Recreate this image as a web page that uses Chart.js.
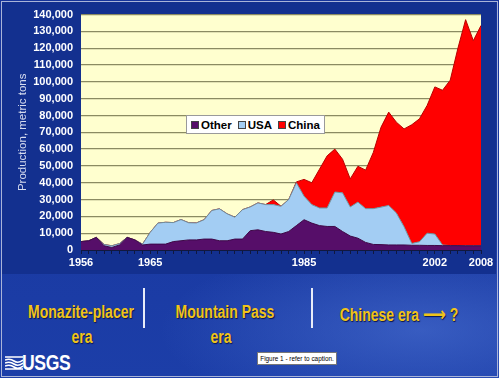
<!DOCTYPE html>
<html><head><meta charset="utf-8">
<script src="https://cdn.jsdelivr.net/npm/chart.js@4.4.0/dist/chart.umd.min.js"></script>
<style>
html,body{margin:0;padding:0;}
body{width:499px;height:378px;overflow:hidden;position:relative;background:#1b3ca3;font-family:"Liberation Sans",Arial,sans-serif;}
#bg{position:absolute;left:0;top:0;width:499px;height:378px;
 background:radial-gradient(ellipse 260px 90px at 420px 330px, rgba(90,130,225,0.45), rgba(0,0,0,0) 100%), linear-gradient(180deg,#17349a 0%,#1c3ea8 100%);}
#navy{position:absolute;left:2px;top:2px;width:494px;height:272px;background:#13308f;}
#frame{position:absolute;left:1px;top:1px;width:495px;height:374px;border:1px solid #aab4d8;}
#chartWrap{position:absolute;left:0;top:0;width:499px;height:275px;}
#legend{position:absolute;left:186px;top:115px;height:17px;padding:0 4px;background:#fff;border:1px solid #9a9a9a;
 display:flex;align-items:center;gap:6px;font:bold 11.5px "Liberation Sans",Arial,sans-serif;color:#000;white-space:nowrap;}
#legend .it{display:flex;align-items:center;gap:2px;}
#legend .sw{width:6px;height:6px;border:1px solid #444;display:inline-block;}
.era{position:absolute;color:#f0c419;font-weight:bold;font-size:17.5px;text-shadow:1px 1px 1px #0a1650;white-space:nowrap;transform-origin:center;}
.sep{position:absolute;width:2px;background:#e8ecf8;top:288px;height:40px;}
#cap{position:absolute;left:257px;top:352px;width:78px;height:11px;background:#fff;border:1px solid #777;font:6.4px "Liberation Sans",Arial,sans-serif;color:#000;line-height:11px;text-align:center;white-space:nowrap;overflow:hidden;}
#usgs{position:absolute;left:22px;top:350px;color:#fff;font:bold 22px "Liberation Sans",Arial,sans-serif;transform:scaleX(0.8);transform-origin:left center;letter-spacing:-0.5px;}
#mark{position:absolute;left:5px;top:355px;}
</style></head>
<body>
<div id="bg"></div>
<div id="navy"></div>
<div id="frame"></div>
<div id="chartWrap"><canvas id="c" width="499" height="275"></canvas></div>
<div id="legend"></div>

<div class="era" style="left:81px;top:302px;transform:translateX(-50%) scaleX(0.8);">Monazite-placer</div>
<div class="era" style="left:82px;top:327px;transform:translateX(-50%) scaleX(0.8);">era</div>
<div class="sep" style="left:143px;"></div>
<div class="era" style="left:225px;top:302px;transform:translateX(-50%) scaleX(0.8);">Mountain Pass</div>
<div class="era" style="left:221px;top:327px;transform:translateX(-50%) scaleX(0.8);">era</div>
<div class="sep" style="left:311px;"></div>
<div class="era" style="left:399px;top:302px;transform:translateX(-50%) scaleX(0.8);">Chinese era <span style="font-family:'DejaVu Sans';font-size:20px;">⟶</span> ?</div>

<div id="cap">Figure 1 - refer to caption.</div>
<svg id="mark" width="18" height="16" viewBox="0 0 18 16">
 <path d="M0 2 L18 2 M0 5 Q5 3 9 6 T18 5 M0 8 Q5 6 9 9 T18 8 M0 11 Q5 9 9 12 T18 11 M0 14 L18 14" stroke="#fff" stroke-width="1.6" fill="none"/>
</svg>
<div id="usgs">USGS</div>

<script>
const years = [1956,1957,1958,1959,1960,1961,1962,1963,1964,1965,
  1966,1967,1968,1969,1970,1971,1972,1973,1974,1975,
  1976,1977,1978,1979,1980,1981,1982,1983,1984,1985,
  1986,1987,1988,1989,1990,1991,1992,1993,1994,1995,
  1996,1997,1998,1999,2000,2001,2002,2003,2004,2005,
  2006,2007,2008];
const seriesNames = ['Other','USA','China'];
const otherValues = [5000,5500,7500,2500,1500,3000,7500,6000,3000,3500,
  3500,3500,5000,5500,6000,6000,6500,6500,5500,5500,
  6500,6500,11500,12000,11000,10500,9500,11000,14500,18000,
  16000,14500,14000,14000,11000,8300,7000,4500,3300,3200,
  3000,3000,3000,2800,2800,2700,2700,2600,2600,2600,
  2500,2500,2500];
const usaValues = [0,0,0,800,1000,800,0,0,500,7000,
  12500,13000,11300,12600,10200,10100,11500,17000,19000,16000,
  13000,17500,14100,16000,16000,16500,16500,19000,25500,14000,
  11000,10500,11000,20500,23000,17300,21500,20100,21300,22300,
  23500,19000,10800,1100,2100,7300,6800,400,0,0,
  0,0,0];
const chinaValues = [0,0,0,0,0,0,0,0,0,0,
  0,0,0,0,0,0,0,0,0,0,
  0,0,0,0,0,2800,0,0,500,10000,
  13000,23000,31000,25500,20000,16700,21300,22900,33400,47500,
  55500,54000,58200,70600,73100,76000,87500,92000,98400,117400,
  134500,122000,131000];
const labeledYears = [1956,1965,1985,2002,2008];
const yMin = 0, yMax = 140000, yStep = 10000;

const colors = {
  Other: {fill:'#560e69', line:'#3c0848'},
  USA:   {fill:'#a3cdf3', line:'#6f8f9c'},
  China: {fill:'#ff0000', line:'#b80000'}
};

const plotBg = {
  id:'plotBg',
  beforeDraw(chart){
    const a = chart.chartArea, ctx = chart.ctx;
    ctx.save(); ctx.fillStyle = '#ffffcf';
    ctx.fillRect(a.left, a.top, a.right-a.left, a.bottom-a.top);
    ctx.restore();
  }
};

const valueSets = [otherValues, usaValues, chinaValues];
const datasets = seriesNames.map((n,i)=>({
  label:n, data:valueSets[i],
  backgroundColor:colors[n].fill, borderColor:colors[n].line,
  borderWidth:1, pointRadius:0, tension:0,
  fill: i===0 ? 'origin' : '-1'
}));

const chart = new Chart(document.getElementById('c'), {
  type:'line',
  data:{labels:years, datasets},
  plugins:[plotBg],
  options:{
    responsive:false, animation:false,
    layout:{padding:{left:12, right:18, top:13, bottom:0}},
    plugins:{legend:{display:false}, tooltip:{enabled:false}},
    scales:{
      x:{
        offset:false,
        grid:{drawOnChartArea:false, drawTicks:true, tickLength:4, color:'#10183f'},
        border:{display:true, color:'#10183f'},
        ticks:{autoSkip:false, maxRotation:0, minRotation:0, padding:2, color:'#ffffff',
          font:{family:'"Liberation Sans", Arial, sans-serif', size:11, weight:'bold'},
          callback:function(v){ const yr = this.getLabelForValue(v); return labeledYears.includes(+yr) ? String(yr) : ''; }},
        afterFit(s){ s.height = 25; }
      },
      y:{
        stacked:true, min:yMin, max:yMax,
        grid:{color:'#8b8b62', lineWidth:1.3, drawTicks:false},
        border:{display:false},
        ticks:{stepSize:yStep, padding:8, color:'#ffffff',
          font:{family:'"Liberation Sans", Arial, sans-serif', size:11, weight:'bold'},
          callback:v=>v.toLocaleString('en-US')},
        title:{display:true, text:'Production, metric tons', color:'#d6dcef',
          font:{family:'"Liberation Sans", Arial, sans-serif', size:11.5}},
        afterFit(s){ s.width = 69; }
      }
    }
  }
});

const lg = document.getElementById('legend');
chart.data.datasets.forEach(ds=>{
  const it = document.createElement('span'); it.className='it';
  const sw = document.createElement('span'); sw.className='sw'; sw.style.background = ds.backgroundColor;
  const tx = document.createElement('span'); tx.textContent = ds.label;
  it.appendChild(sw); it.appendChild(tx); lg.appendChild(it);
});
</script>
</body></html>
